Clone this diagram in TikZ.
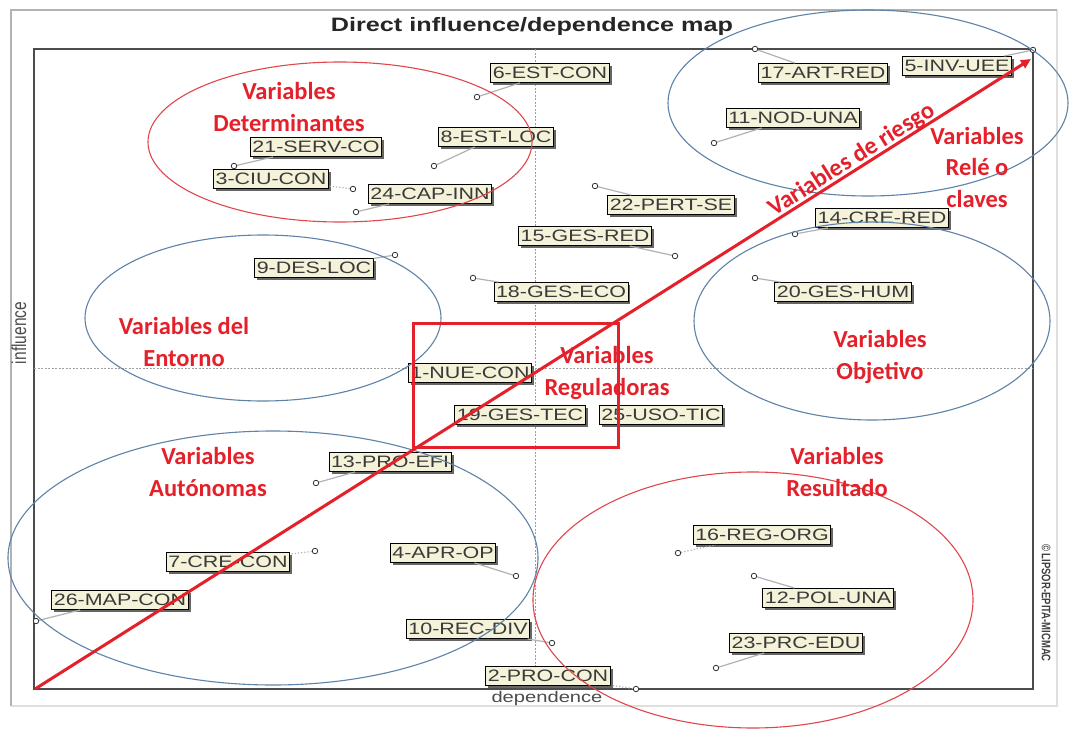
\documentclass[tikz,border=0pt]{standalone}
\usepackage{fontspec}
\usepackage{graphicx}
\setmainfont{Liberation Sans}
\newfontfamily\annotfont{Carlito}
\usetikzlibrary{shadows,arrows.meta}

\definecolor{lblfill}{HTML}{F4F2D8}
\definecolor{lbltext}{HTML}{3A3A3A}
\definecolor{annred}{HTML}{E4202A}
\definecolor{ellred}{HTML}{E0474C}
\definecolor{ellblue}{HTML}{5F82A8}

% chart texts are set wide
\newcommand\wx[1]{\scalebox{1.3}[1]{#1}}

\begin{document}
\begin{tikzpicture}[x=1pt,y=-1pt,
  lbl/.style={draw=black, line width=0.9pt, fill=lblfill, text=lbltext,
    font=\fontsize{16.5}{16.5}\selectfont, inner xsep=2pt, inner ysep=0pt,
    minimum height=19pt,
    drop shadow={shadow xshift=2.5pt, shadow yshift=-2.5pt, fill=black!60, opacity=1}},
  mk/.style={circle, draw=gray!40!black, line width=0.8pt, fill=white,
    inner sep=0pt, minimum size=5.5pt},
  lead/.style={draw=gray!60, line width=1.2pt},
  dotlead/.style={draw=gray!60, line width=1.2pt, dotted},
  axisline/.style={draw=gray!75, line width=0.7pt, dash pattern=on 2pt off 1.5pt},
  ann/.style={text=annred, font=\annotfont\bfseries\fontsize{24.5}{31.5}\selectfont, align=center},
  ellR/.style={draw=ellred, line width=1.1pt},
  ellB/.style={draw=ellblue, line width=1.1pt}]

\useasboundingbox (0,0) rectangle (1069,731);
\fill[white] (0,0) rectangle (1069,731);

% outer panel
\draw[gray!25, line width=1.5pt] (11,706) -- (1057,706) -- (1057,10);
\draw[gray!60, line width=1.8pt] (11,706) -- (11,10) -- (1057,10);

% plot frame and centre axes
\draw[black!70, line width=1.8pt] (34,49) rectangle (1033,689);
\draw[axisline] (535,49) -- (535,689);
\draw[axisline] (34,368) -- (1033,368);

% title and axis names
\node[font=\bfseries\fontsize{19.4}{20}\selectfont, text=black!85, anchor=base] (title) at (532,31) {\wx{Direct influence/dependence map}};
\node[font=\fontsize{15.5}{16}\selectfont, text=black!70, anchor=base] (xname) at (547,702) {\wx{dependence}};
\node[font=\fontsize{15.5}{16}\selectfont, text=black!70, rotate=90] (yname) at (19,333) {\scalebox{1}[1.3]{influence}};
\node[font=\bfseries\fontsize{9.5}{10}\selectfont, text=black!75, rotate=-90] (copy) at (1046,603) {\scalebox{1}[1.3]{© LIPSOR-EPITA-MICMAC}};

% variable points
\node[mk] (m6)  at (477,97)  {};
\node[mk] (m21) at (234,166) {};
\node[mk] (m3)  at (353,189) {};
\node[mk] (m24) at (356,212) {};
\node[mk] (m8)  at (434,166) {};
\node[mk] (m17) at (755,49)  {};
\node[mk] (m5)  at (1033,50) {};
\node[mk] (m11) at (714,143) {};
\node[mk] (m22) at (595,186) {};
\node[mk] (m15) at (675,256) {};
\node[mk] (m18) at (473,278) {};
\node[mk] (m14) at (795,234) {};
\node[mk] (m20) at (755,278) {};
\node[mk] (m9)  at (395,255) {};
\node[mk] (m13) at (316,483) {};
\node[mk] (m7)  at (315,551) {};
\node[mk] (m4)  at (516,576) {};
\node[mk] (m26) at (36,621)  {};
\node[mk] (m10) at (552,643) {};
\node[mk] (m2)  at (636,689) {};
\node[mk] (m16) at (678,553) {};
\node[mk] (m12) at (754,576) {};
\node[mk] (m23) at (716,668) {};

% variable labels
\node[lbl] (l6)  at (550,73)  {\wx{6-EST-CON}};
\node[lbl] (l21) at (316,147) {\wx{21-SERV-CO}};
\node[lbl] (l3)  at (271,179) {\wx{3-CIU-CON}};
\node[lbl] (l24) at (430,194) {\wx{24-CAP-INN}};
\node[lbl] (l8)  at (496,137) {\wx{8-EST-LOC}};
\node[lbl] (l17) at (823,73)  {\wx{17-ART-RED}};
\node[lbl] (l5)  at (957,66)  {\wx{5-INV-UEE}};
\node[lbl] (l11) at (793,118) {\wx{11-NOD-UNA}};
\node[lbl] (l22) at (671,205) {\wx{22-PERT-SE}};
\node[lbl] (l15) at (585,236) {\wx{15-GES-RED}};
\node[lbl] (l18) at (561,292) {\wx{18-GES-ECO}};
\node[lbl] (l14) at (882,218) {\wx{14-CRE-RED}};
\node[lbl] (l20) at (843,292) {\wx{20-GES-HUM}};
\node[lbl] (l9)  at (314,268) {\wx{9-DES-LOC}};
\node[lbl] (l1)  at (470,373) {\wx{1-NUE-CON}};
\node[lbl] (l19) at (520,415) {\wx{19-GES-TEC}};
\node[lbl] (l25) at (661,415) {\wx{25-USO-TIC}};
\node[lbl] (l13) at (390,462) {\wx{13-PRO-EFI}};
\node[lbl] (l7)  at (228,562) {\wx{7-CRE-CON}};
\node[lbl] (l4)  at (443,553) {\wx{4-APR-OP}};
\node[lbl] (l26) at (120,600) {\wx{26-MAP-CON}};
\node[lbl] (l10) at (468,629) {\wx{10-REC-DIV}};
\node[lbl] (l2)  at (548,676) {\wx{2-PRO-CON}};
\node[lbl] (l16) at (762,535) {\wx{16-REG-ORG}};
\node[lbl] (l12) at (828,598) {\wx{12-POL-UNA}};
\node[lbl] (l23) at (796,643) {\wx{23-PRC-EDU}};

% point-to-label leads
\draw[lead] (m6) -- (l6);
\draw[lead] (m21) -- (l21);
\draw[dotlead] (m3) -- (l3);
\draw[lead] (m24) -- (l24);
\draw[lead] (m8) -- (l8);
\draw[lead] (m17) -- (l17);
\draw[lead] (m5) -- (l5);
\draw[lead] (m11) -- (l11);
\draw[lead] (m22) -- (l22);
\draw[lead] (m15) -- (l15);
\draw[lead] (m18) -- (l18);
\draw[lead] (m14) -- (l14);
\draw[lead] (m20) -- (l20);
\draw[lead] (m9) -- (l9);
\draw[lead] (m13) -- (l13);
\draw[dotlead] (m7) -- (l7);
\draw[lead] (m4) -- (l4);
\draw[lead] (m26) -- (l26);
\draw[lead] (m10) -- (l10);
\draw[dotlead] (m2) -- (l2);
\draw[dotlead] (m16) -- (l16);
\draw[lead] (m12) -- (l12);
\draw[lead] (m23) -- (l23);

% classification zones
\draw[ellR] (340,142) ellipse [x radius=192pt, y radius=80pt];
\draw[ellB] (868,103) ellipse [x radius=200pt, y radius=93pt];
\draw[ellB] (263,318) ellipse [x radius=178pt, y radius=83pt];
\draw[ellB] (872,321) ellipse [x radius=178pt, y radius=99pt];
\draw[ellB] (273,558) ellipse [x radius=265pt, y radius=127pt];
\draw[ellR] (753,600) ellipse [x radius=220pt, y radius=128pt];
\draw[annred, line width=3pt] (413,323) rectangle (618,447);

% risk diagonal
\coordinate (rs) at (35,689);
\coordinate (re) at (1031,59);
\draw[annred, line width=3pt, -{Triangle[length=10pt,width=9pt]}] (rs) -- (re);
\node[ann, rotate=32.3] (trisk) at (852,160) {Variables de riesgo};

% zone names
\node[ann] (tdet) at (289,107) {Variables\\Determinantes};
\node[ann] (tent) at (184,342) {Variables del\\Entorno};
\node[ann] (taut) at (208,472) {Variables\\Autónomas};
\node[ann] (treg) at (607,373) {Variables\\Reguladoras};
\node[ann] (tobj) at (880,357) {Variables\\Objetivo};
\node[ann] (tres) at (837,472) {Variables\\Resultado};
\node[ann] (trel) at (977,167) {Variables\\Relé o\\claves};

\end{tikzpicture}
\end{document}
